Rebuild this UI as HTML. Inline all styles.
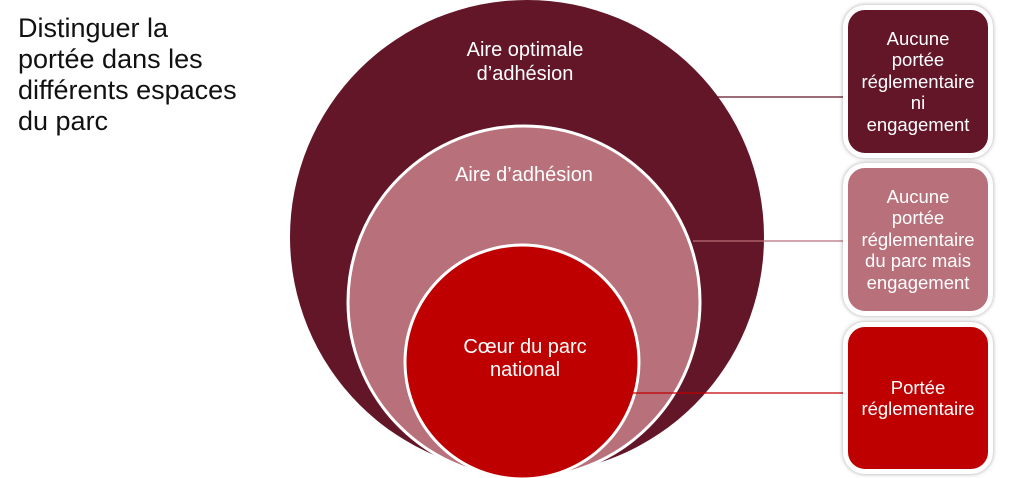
<!DOCTYPE html>
<html><head><style>
body{margin:0;width:1009px;height:478px;background:#fff;position:relative;overflow:hidden;font-family:"Liberation Sans",sans-serif}
.t{position:absolute;left:18px;top:13px;font-size:27px;line-height:31px;color:#111}
.b{position:absolute;left:843px;width:140px;border:5px solid #fff;border-radius:22px;box-shadow:0 0 4px rgba(0,0,0,.35);color:#fff;font-size:18.5px;line-height:21.5px;text-align:center;display:flex;align-items:center;justify-content:center;box-sizing:content-box}
</style></head><body>
<div class="t">Distinguer la<br>portée dans les<br>différents espaces<br>du parc</div>
<svg width="1009" height="478" style="position:absolute;left:0;top:0">
<circle cx="527" cy="237" r="237" fill="#621628"/>
<circle cx="524" cy="302" r="176" fill="#b8707a" stroke="#fff" stroke-width="3"/>
<circle cx="522" cy="362" r="117" fill="#bf0000" stroke="#fff" stroke-width="3"/>
<line x1="715" y1="97" x2="850" y2="97" stroke="#621628" stroke-width="1.2"/>
<line x1="693" y1="241" x2="850" y2="241" stroke="#b8707a" stroke-width="1.2"/>
<line x1="632" y1="393" x2="850" y2="393" stroke="#c00000" stroke-width="1.2"/>
<g fill="#fff" font-size="20" text-anchor="middle" font-family="Liberation Sans,sans-serif">
<text x="525" y="56">Aire optimale</text><text x="525" y="80">d’adhésion</text>
<text x="524" y="181">Aire d’adhésion</text>
<text x="525" y="353">Cœur du parc</text><text x="525" y="376">national</text>
</g>
</svg>
<div class="b" style="top:5px;height:143px;background:#621628">Aucune<br>portée<br>réglementaire<br>ni<br>engagement</div>
<div class="b" style="top:163px;height:143px;background:#b8707a">Aucune<br>portée<br>réglementaire<br>du parc mais<br>engagement</div>
<div class="b" style="top:322px;height:142px;background:#bf0000">Portée<br>réglementaire</div>
</body></html>
